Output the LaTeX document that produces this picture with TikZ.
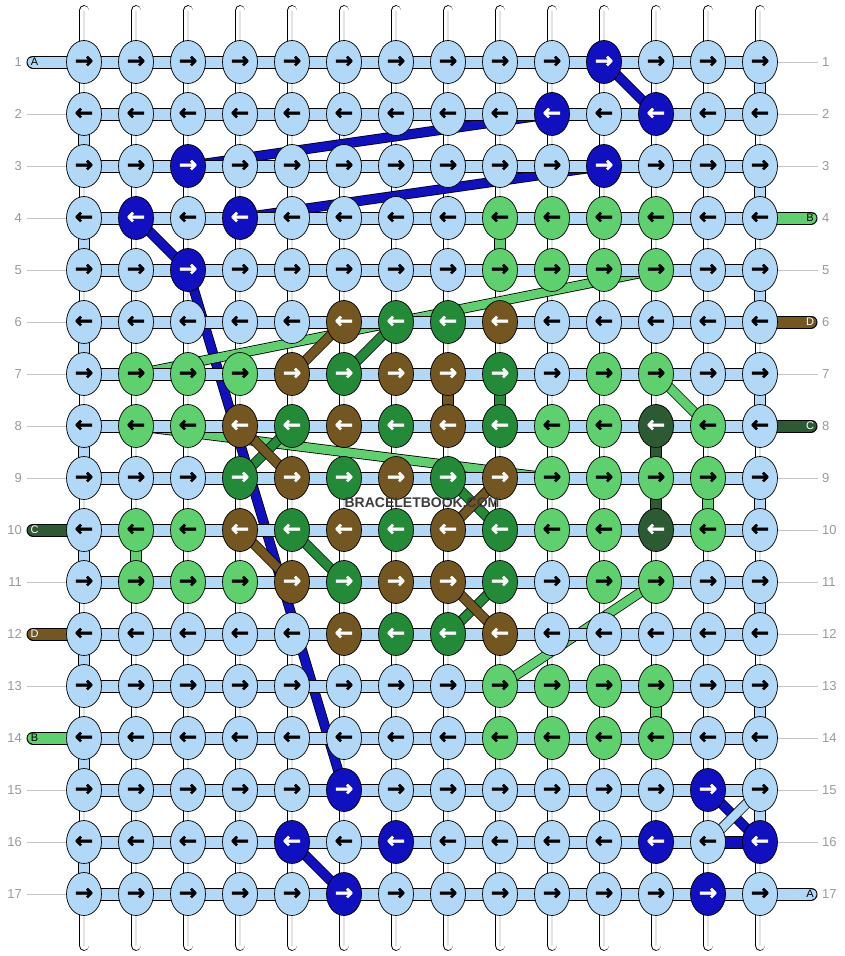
\documentclass[tikz,border=0pt]{standalone}
\usepackage{fontspec}
\setmainfont{Liberation Sans}
\newfontfamily\arrowfont{DejaVu Sans}[BoldFeatures={FakeBold=1.8}]
\usetikzlibrary{shapes.geometric}

\definecolor{lb}{HTML}{B2D8F8}
\definecolor{db}{HTML}{1010C0}
\definecolor{lg}{HTML}{5ED06E}
\definecolor{dg}{HTML}{238A38}
\definecolor{br}{HTML}{735620}
\definecolor{vg}{HTML}{2B5A33}
\definecolor{numgray}{HTML}{999999}
\definecolor{guidegray}{HTML}{C4C4C4}
\definecolor{wmgray}{HTML}{3C3C3C}

\pgfdeclarelayer{warp}
\pgfdeclarelayer{threads}
\pgfdeclarelayer{bars}
\pgfsetlayers{warp,threads,bars,main}

\begin{document}
\begin{tikzpicture}[
    x=1pt, y=-1pt,
    knotnode/.style={ellipse, draw, line width=0.7pt, minimum width=35pt, minimum height=43pt,
        inner sep=0pt, font=\arrowfont\bfseries\fontsize{22}{22}\selectfont},
    kL/.style={knotnode, fill=lb, text=black},
    kD/.style={knotnode, fill=db, text=white},
    kG/.style={knotnode, fill=lg, text=black},
    kK/.style={knotnode, fill=dg, text=white},
    kR/.style={knotnode, fill=br, text=white},
    kV/.style={knotnode, fill=vg, text=white},
    warpline/.style={double=white, double distance=9pt, line width=0.9pt, line cap=round},
    rowbar/.style={double distance=11pt, line width=1pt},
    vseg/.style={double distance=10pt, line width=1pt},
    thread/.style={double distance=8.5pt, line width=0.8pt},
    tailbar/.style={double distance=11pt, line width=1pt, line cap=round},
    tailtext/.style={font=\fontsize{11}{11}\selectfont, inner sep=0pt},
    rownum/.style={text=numgray, font=\fontsize{13}{13}\selectfont, inner sep=0pt},
    guide/.style={draw=guidegray, line width=0.8pt},
    wmark/.style={font=\bfseries\fontsize{14}{14}\selectfont, inner sep=0pt}
]
\useasboundingbox (0,0) rectangle (844,956);

% knots, row by row
\foreach \r/\row in {
    1/{L,L,L,L,L,L,L,L,L,L,D,L,L,L},
    2/{L,L,L,L,L,L,L,L,L,D,L,D,L,L},
    3/{L,L,D,L,L,L,L,L,L,L,D,L,L,L},
    4/{L,D,L,D,L,L,L,L,G,G,G,G,L,L},
    5/{L,L,D,L,L,L,L,L,G,G,G,G,L,L},
    6/{L,L,L,L,L,R,K,K,R,L,L,L,L,L},
    7/{L,G,G,G,R,K,R,R,K,L,G,G,L,L},
    8/{L,G,G,R,K,R,K,R,K,G,G,V,G,L},
    9/{L,L,L,K,R,K,R,K,R,G,G,G,G,L},
    10/{L,G,G,R,K,R,K,R,K,G,G,V,G,L},
    11/{L,G,G,G,R,K,R,R,K,L,G,G,L,L},
    12/{L,L,L,L,L,R,K,K,R,L,L,L,L,L},
    13/{L,L,L,L,L,L,L,L,G,G,G,G,L,L},
    14/{L,L,L,L,L,L,L,L,G,G,G,G,L,L},
    15/{L,L,L,L,L,D,L,L,L,L,L,L,D,L},
    16/{L,L,L,L,D,L,D,L,L,L,L,D,L,D},
    17/{L,L,L,L,L,D,L,L,L,L,L,L,D,L}}
  \foreach \k [count=\c] in \row
    \node[k\k] (n-\r-\c) at ({32+52*\c},{10+52*\r}) {\ifodd\r\relax →\else ←\fi};

% warp strings
\begin{pgfonlayer}{warp}
\foreach \c in {1,...,14} {
  \coordinate (w-\c-t) at ({32+52*\c},10.5);
  \coordinate (w-\c-b) at ({32+52*\c},945.5);
  \draw[warpline] (w-\c-t) -- (w-\c-b);
  \draw[gray!22, line width=2.5pt] (w-\c-t) -- (w-\c-b);
}
\end{pgfonlayer}

% threads between rows
\begin{pgfonlayer}{threads}
\foreach \a/\b/\col in {1-11/2-12/db, 2-10/3-3/db, 3-11/4-4/db, 4-2/5-3/db, 5-3/15-6/db,
    16-5/17-6/db, 15-13/16-14/db, 16-13/15-14/lb,
    5-12/7-2/lg, 8-2/9-10/lg, 7-12/8-13/lg, 11-12/13-9/lg,
    6-7/7-6/dg, 8-5/9-4/dg, 9-8/10-9/dg, 10-5/11-6/dg, 11-9/12-8/dg,
    6-6/7-5/br, 8-4/9-5/br, 9-9/10-8/br, 10-4/11-5/br, 11-8/12-9/br}
  \draw[thread, double=\col] (n-\a.center) -- (n-\b.center);
\end{pgfonlayer}

\begin{pgfonlayer}{bars}
\foreach \r in {1,...,17}
  \draw[rowbar, double=lb] (n-\r-1.center) -- (n-\r-14.center);
\draw[rowbar, double=db] (n-16-13.center) -- (n-16-14.center);
\foreach \r [evaluate=\r as \s using int(\r+1)] in {2,4,...,16}
  \draw[vseg, double=lb] (n-\r-1.center) -- (n-\s-1.center);
\foreach \r [evaluate=\r as \s using int(\r+1)] in {1,3,...,15}
  \draw[vseg, double=lb] (n-\r-14.center) -- (n-\s-14.center);
\foreach \r/\s/\c/\col in {4/5/9/lg, 10/11/2/lg, 9/10/13/lg, 13/14/12/lg,
    8/9/12/vg, 9/10/12/vg, 7/8/8/br, 7/8/9/dg}
  \draw[vseg, double=\col] (n-\r-\c.center) -- (n-\s-\c.center);
% tails
\foreach \r/\t/\col/\tc in {1/A/lb/black, 10/C/vg/white, 12/D/br/white, 14/B/lg/black} {
  \coordinate (lt-\r) at (33,{10+52*\r});
  \draw[tailbar, double=\col] (n-\r-1.center) -- (lt-\r);
  \node[tailtext, text=\tc] (ltx-\r) at (34.5,{10+52*\r}) {\t};
}
\foreach \r/\t/\col/\tc in {4/B/lg/black, 6/D/br/white, 8/C/vg/white, 17/A/lb/black} {
  \coordinate (rt-\r) at (811,{10+52*\r});
  \draw[tailbar, double=\col] (n-\r-14.center) -- (rt-\r);
  \node[tailtext, text=\tc] (rtx-\r) at (810,{10+52*\r}) {\t};
}
\end{pgfonlayer}

% row numbers
\foreach \r in {1,...,17} {
  \node[rownum, anchor=east] (ln-\r) at (22,{10+52*\r}) {\r};
  \node[rownum, anchor=west] (rn-\r) at (822,{10+52*\r}) {\r};
}
\foreach \r in {2,...,9,11,13,15,16,17}
  \draw[guide] ([xshift=5pt]ln-\r.east) -- (n-\r-1);
\foreach \r in {1,2,3,5,7,9,10,...,16}
  \draw[guide] (n-\r-14) -- ([xshift=-4pt]rn-\r.west);

\node[wmark, text=wmgray] (wm) at (422,503) {BRACELETBOOK.COM};
\end{tikzpicture}
\end{document}
